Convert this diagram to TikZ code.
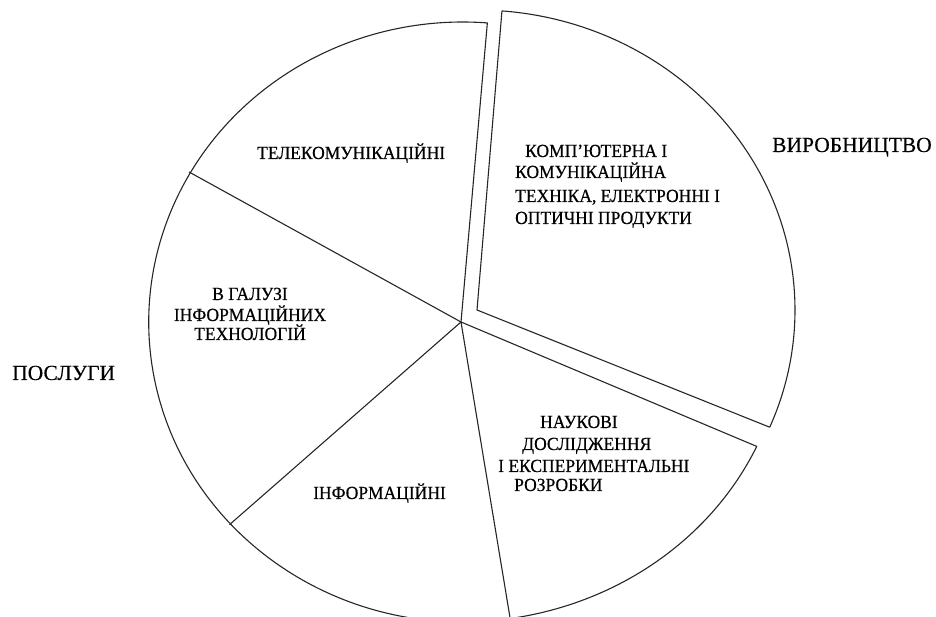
\documentclass[tikz,border=0pt]{standalone}
\usepackage{fontspec}
\setmainfont{Liberation Serif}
\newfontfamily\lblfont[FakeStretch=0.946,FakeBold=0.5]{Liberation Serif}
\newfontfamily\bigfont[FakeBold=0.3]{Liberation Serif}
\begin{document}
\begin{tikzpicture}[x=1pt,y=1pt,
  edge/.style={line width=1.1pt, draw=black!85, line join=round},
  inlbl/.style={font=\lblfont\fontsize{18.5}{21}\selectfont, inner sep=0pt, anchor=base west},
  outlbl/.style={font=\bigfont\fontsize{21.5}{26}\selectfont, inner sep=0pt, anchor=base west}]
\useasboundingbox (0,0) rectangle (936,617);
% main pie
\begin{scope}[shift={(461,295)}]
  \coordinate (C) at (0,0);
  \coordinate (pR) at (-24.5:325 and 300);
  \coordinate (pB) at (-81:314 and 300);
  \coordinate (pLL) at (-137.5:314 and 300);
  \coordinate (pUL) at (150:314 and 300);
  \draw[edge] (C) -- (pR) arc[start angle=-24.5,end angle=-81,x radius=325,y radius=300]
     arc[start angle=-81,end angle=-274.5,x radius=314,y radius=300] -- cycle;
  \draw[edge] (C) -- (pB);
  \draw[edge] (C) -- (pLL);
  \draw[edge] (C) -- (pUL);
\end{scope}
% exploded slice
\begin{scope}[shift={(477,307)}]
  \coordinate (E) at (0,0);
  \coordinate (eT) at (85.5:318 and 300);
  \draw[edge] (E) -- (eT) arc[start angle=85.5,end angle=-23,x radius=318,y radius=300] -- cycle;
\end{scope}
% labels
\node[outlbl] (vyr) at (772,465) {ВИРОБНИЦТВО};
\node[outlbl] (posl) at (12,237) {ПОСЛУГИ};
\node[inlbl] (tel) at (257,458) {ТЕЛЕКОМУНІКАЦІЙНІ};
\node[inlbl] (k1) at (525,460) {КОМП’ЮТЕРНА І};
\node[inlbl] (k2) at (515,439) {КОМУНІКАЦІЙНА};
\node[inlbl] (k3) at (515,415) {ТЕХНІКА, ЕЛЕКТРОННІ І};
\node[inlbl] (k4) at (515,393) {ОПТИЧНІ ПРОДУКТИ};
\node[inlbl,anchor=base] (g1) at (250,317) {В ГАЛУЗІ};
\node[inlbl,anchor=base] (g2) at (250,296) {ІНФОРМАЦІЙНИХ};
\node[inlbl,anchor=base] (g3) at (250,277) {ТЕХНОЛОГІЙ};
\node[inlbl] (inf) at (313,118) {ІНФОРМАЦІЙНІ};
\node[inlbl] (n1) at (540,189) {НАУКОВІ};
\node[inlbl] (n2) at (522,167) {ДОСЛІДЖЕННЯ};
\node[inlbl] (n3) at (498,145) {І ЕКСПЕРИМЕНТАЛЬНІ};
\node[inlbl] (n4) at (514,126) {РОЗРОБКИ};
\end{tikzpicture}
\end{document}
